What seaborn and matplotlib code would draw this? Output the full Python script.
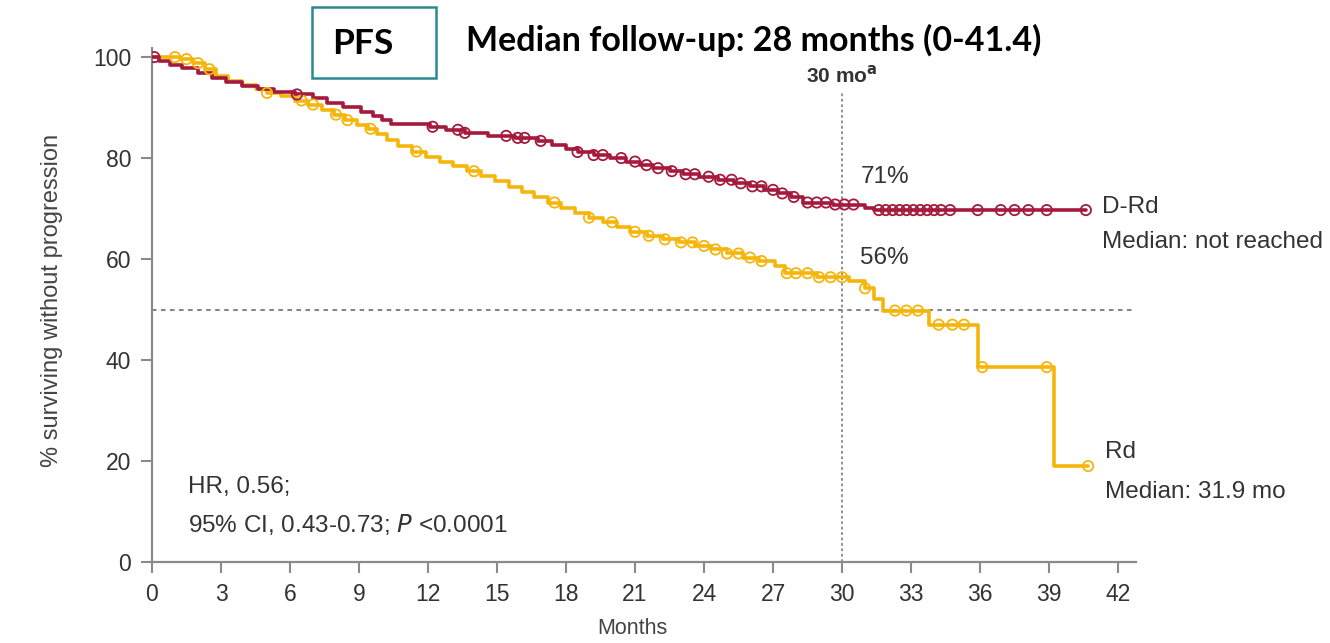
import matplotlib
matplotlib.use("Agg")
import matplotlib.pyplot as plt
from matplotlib import font_manager
from matplotlib.patches import Rectangle
import numpy as np
import pandas as pd
import seaborn as sns

# Kaplan-Meier step points (months, % progression-free) for each arm
drd_t = [0, 0.3, 0.8, 1.3, 2.0, 2.6, 3.2, 3.9, 4.6, 5.3, 6.2, 7.0, 7.6, 8.3, 9.1, 9.6,
         10.0, 10.4, 12.1, 12.8, 13.6, 14.6, 15.8, 16.8, 17.4, 18.0, 18.5, 19.2, 19.9,
         20.6, 21.2, 21.8, 22.5, 23.1, 23.8, 24.6, 25.3, 26.0, 26.6, 27.2, 27.8, 28.3,
         29.6, 31.0, 31.4, 40.6]
drd_s = [100, 99.3, 98.4, 97.8, 96.9, 95.8, 95.0, 94.2, 93.6, 93.0, 92.6, 91.8, 91.0,
         90.2, 89.2, 88.4, 87.6, 86.7, 86.2, 85.6, 85.0, 84.4, 84.0, 83.4, 82.6, 81.8,
         81.2, 80.6, 80.0, 79.3, 78.6, 78.0, 77.4, 76.8, 76.3, 75.7, 75.0, 74.4, 73.7,
         73.0, 72.3, 71.2, 70.8, 70.2, 69.7, 69.7]

rd_t = [0, 1.2, 1.8, 2.3, 2.8, 3.3, 3.9, 4.5, 5.0, 5.6, 6.2, 6.8, 7.4, 7.9, 8.4, 8.9,
        9.4, 9.8, 10.2, 10.7, 11.3, 11.9, 12.5, 13.1, 13.7, 14.3, 14.9, 15.5, 16.1,
        16.6, 17.2, 17.8, 18.4, 19.0, 19.6, 20.2, 20.8, 21.5, 22.2, 22.9, 23.6, 24.3,
        25.0, 25.7, 26.4, 27.1, 27.5, 28.9, 30.3, 31.0, 31.4, 31.8, 33.8, 35.9, 39.2,
        40.7]
rd_s = [100, 99.6, 98.8, 97.6, 96.2, 95.2, 94.4, 93.6, 92.9, 92.2, 91.4, 90.6, 89.6,
        88.6, 87.5, 86.6, 85.8, 84.8, 83.6, 82.4, 81.3, 80.2, 79.3, 78.4, 77.4, 76.5,
        75.4, 74.3, 73.3, 72.3, 71.2, 70.2, 69.1, 68.2, 67.3, 66.4, 65.4, 64.6, 63.9,
        63.3, 62.6, 61.9, 61.1, 60.3, 59.6, 58.6, 57.2, 56.4, 55.6, 54.2, 52.0, 49.8,
        47.0, 38.6, 19.0, 19.0]

# Censoring times (months)
drd_cens = [0.1, 6.3, 12.2, 13.3, 13.6, 15.4, 15.9, 16.2, 16.9, 18.5, 19.2, 19.6, 20.4,
            21.0, 21.5, 22.0, 22.6, 23.2, 23.6, 24.2, 24.7, 25.2, 25.6, 26.1, 26.5, 27.0,
            27.4, 27.9, 28.5, 28.9, 29.3, 29.7, 30.1, 30.5, 31.6, 31.9, 32.2, 32.5, 32.8,
            33.1, 33.4, 33.7, 34.0, 34.3, 34.7, 35.9, 36.9, 37.5, 38.1, 38.9, 40.6]
rd_cens = [1.0, 1.5, 2.0, 2.5, 5.0, 6.5, 7.0, 8.0, 8.5, 9.5, 11.5, 14.0, 17.5, 19.0,
           20.0, 21.0, 21.6, 22.3, 23.0, 23.5, 24.0, 24.5, 25.0, 25.5, 26.0, 26.5, 27.6,
           28.0, 28.5, 29.0, 29.5, 30.0, 31.0, 32.3, 32.8, 33.3, 34.2, 34.8, 35.3, 36.1,
           38.9, 40.7]

arm_names = ["D-Rd", "Rd"]
arm_colors = {"D-Rd": "#a51a3c", "Rd": "#f5b50a"}
x_ticks = list(range(0, 43, 3))
y_ticks = [0, 20, 40, 60, 80, 100]
landmark_month = 30
landmark_labels = ["71%", "56%"]

sns.set_theme(style="white")
available = {f.name for f in font_manager.fontManager.ttflist}
base_font = "Liberation Sans Narrow" if "Liberation Sans Narrow" in available else "Liberation Sans"
plt.rcParams["font.family"] = [base_font, "DejaVu Sans"]

W, H = 1330, 643
fig = plt.figure(figsize=(W / 100, H / 100), dpi=100)
ax = fig.add_axes([152 / W, (H - 562) / H, (1136 - 152) / W, (562 - 48) / H])


def step_value(times, surv, t):
    idx = np.searchsorted(times, t, side="right") - 1
    return surv[max(idx, 0)]


curves = pd.concat([
    pd.DataFrame({"month": drd_t, "pct": drd_s, "arm": "D-Rd"}),
    pd.DataFrame({"month": rd_t, "pct": rd_s, "arm": "Rd"}),
])
cens = pd.concat([
    pd.DataFrame({"month": drd_cens,
                  "pct": [step_value(drd_t, drd_s, t) for t in drd_cens], "arm": "D-Rd"}),
    pd.DataFrame({"month": rd_cens,
                  "pct": [step_value(rd_t, rd_s, t) for t in rd_cens], "arm": "Rd"}),
])

# Reference lines: median (50%) and 30-month landmark
ax.axhline(50, color="#777777", lw=1.3, ls=(0, (2.5, 2.5)), zorder=1)
ax.plot([landmark_month, landmark_month], [0, 93], color="#888888", lw=1.3,
        ls=(0, (1.5, 1.5)), zorder=1)

for arm in ["Rd", "D-Rd"]:
    sub = curves[curves["arm"] == arm]
    sns.lineplot(data=sub, x="month", y="pct", ax=ax, color=arm_colors[arm],
                 drawstyle="steps-post", lw=2.6, estimator=None, sort=False,
                 legend=False, zorder=3)
    csub = cens[cens["arm"] == arm]
    sns.scatterplot(data=csub, x="month", y="pct", ax=ax, marker="o", s=55,
                    facecolor="none", edgecolor=arm_colors[arm], linewidth=1.3,
                    legend=False, zorder=4)

ax.set_xlim(0, 42.78)
ax.set_ylim(0, 101.8)
ax.set_xticks(x_ticks)
ax.set_yticks(y_ticks)
ax.set_xlabel("")
ax.set_ylabel("")
for side in ["top", "right"]:
    ax.spines[side].set_visible(False)
for side in ["left", "bottom"]:
    ax.spines[side].set_color("#8a8a8a")
    ax.spines[side].set_linewidth(1.6)
ax.tick_params(axis="both", which="major", direction="out", length=8, width=1.5,
               color="#8a8a8a", labelsize=16.5, labelcolor="#333333", pad=7,
               left=True, bottom=True)

txt_kw = dict(fontsize=17.5, color="#333333")
ax.text(30.8, 76.2, landmark_labels[0], va="center", ha="left", **txt_kw)
ax.text(30.8, 60.2, landmark_labels[1], va="center", ha="left", **txt_kw)
ax.text(41.3, 70.3, "D-Rd", va="center", ha="left", **txt_kw)
ax.text(41.3, 63.4, "Median: not reached", va="center", ha="left", **txt_kw)
ax.text(41.45, 21.8, "Rd", va="center", ha="left", **txt_kw)
ax.text(41.45, 13.9, "Median: 31.9 mo", va="center", ha="left", **txt_kw)
ax.text(1.55, 14.9, "HR, 0.56;", va="center", ha="left", **txt_kw)
ax.text(1.55, 7.4, r"95% CI, 0.43-0.73; $\it{P}$ <0.0001", va="center", ha="left", **txt_kw)
ax.text(landmark_month, 96.4, r"30 mo$^{\mathbf{a}}$", va="center", ha="center",
        fontsize=15, fontweight="bold", color="#333333")

fig.text(52 / W, 1 - 300 / H, "% surviving without progression", rotation=90,
         va="center", ha="center", fontsize=17, color="#444444")
fig.text(632 / W, 1 - 628 / H, "Months", va="center", ha="center", fontsize=15.5,
         color="#444444")

# Title elements
fig.patches.append(Rectangle((312 / W, 1 - 78 / H), 124 / W, 71 / H,
                             transform=fig.transFigure, fill=False,
                             edgecolor="#2b8a8e", linewidth=1.8))
fig.text(363 / W, 1 - 44 / H, "PFS", va="center", ha="center", fontsize=25.5,
         fontweight="bold", family=["Lato", "DejaVu Sans"], color="black")
fig.text(466 / W, 1 - 40 / H, "Median follow-up: 28 months (0-41.4)", va="center",
         ha="left", fontsize=24.5, fontweight="bold", family=["Lato", "DejaVu Sans"],
         color="black")

fig.savefig("out.png", dpi=100, facecolor="white")
